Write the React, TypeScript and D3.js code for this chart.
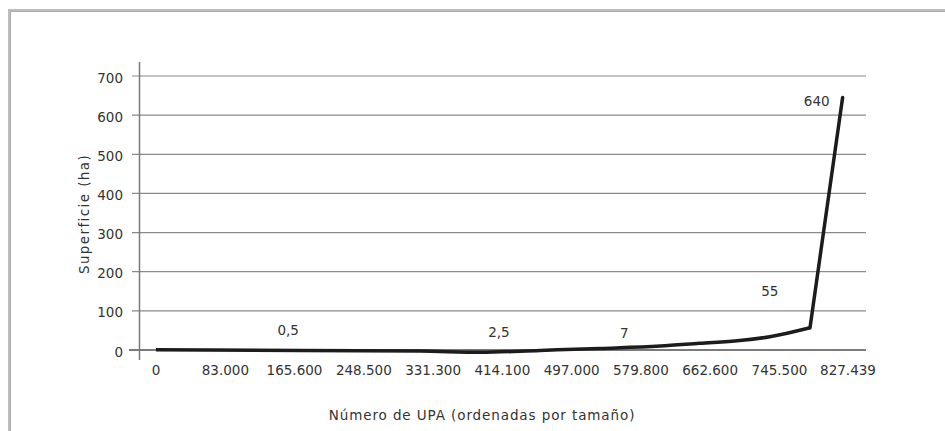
import React from 'react';
import * as d3 from 'd3';

// Número de UPA (ordenadas por tamaño) vs superficie (ha)
const rankUPA = [0, 172000, 316000, 388000, 459000, 531000, 603000, 650000, 698000, 734000, 782000, 821000];
const areaHa = [0.5, -1, -2.5, -6, -1, 4, 10, 17, 24, 34, 57, 645];

const xTickValues = [0, 83000, 165600, 248500, 331300, 414100, 497000, 579800, 662600, 745500, 827439];
const yTickValues = [0, 100, 200, 300, 400, 500, 600, 700];

// Data labels, anchored in data units
const labelText = ['0,5', '2,5', '7', '55', '640'];
const labelRank = [158000, 410000, 560000, 734000, 790000];
const labelArea = [38, 34, 31, 138, 623];

const W = 945;
const H = 431;
const margin = { left: 139, right: 79, top: 76, bottom: 81 };

const esLocale = d3.formatLocale({ decimal: ',', thousands: '.', grouping: [3], currency: ['', ''] });
const fmtThousands = esLocale.format(',');

export default function App() {
  const x = d3.scaleLinear()
    .domain([0, 827439])
    .range([156, 848]);

  const y = d3.scaleLinear()
    .domain([0, 700])
    .range([H - margin.bottom, margin.top]);

  const points = rankUPA.map((r, i) => [r, areaHa[i]] as [number, number]);
  // smooth tail, then a sharp jump for the last stretch
  const smooth = d3.line<[number, number]>()
    .x(d => x(d[0]))
    .y(d => y(d[1]))
    .curve(d3.curveMonotoneX);
  const straight = d3.line<[number, number]>()
    .x(d => x(d[0]))
    .y(d => y(d[1]));

  const gridRight = W - margin.right;
  const font = '"DejaVu Sans", sans-serif';

  return (
    <svg width={W} height={H} style={{ position: 'absolute', left: 0, top: 0, background: '#fff' }}>
      {/* frame */}
      <rect x={9.5} y={10.5} width={1200} height={1200} fill="none" stroke="#bdbdbd" strokeWidth={3} />
      <rect x={10.5} y={11.5} width={1200} height={1200} fill="none" stroke="#a8a8a8" strokeWidth={0.8} />

      {/* gridlines + y ticks */}
      {yTickValues.map(v => (
        <g key={v}>
          <line
            x1={v === 0 ? 129 : 132}
            x2={gridRight}
            y1={y(v)}
            y2={y(v)}
            stroke={v === 0 ? '#7a7a7a' : '#8a8a8a'}
            strokeWidth={v === 0 ? 2 : 1.2}
          />
          <text
            x={123}
            y={y(v) + 1.5}
            textAnchor="end"
            dominantBaseline="central"
            fontFamily={font}
            fontSize={13.5}
            fill="#333"
          >
            {v}
          </text>
        </g>
      ))}

      {/* y axis */}
      <line x1={139.5} x2={139.5} y1={62} y2={360} stroke="#7a7a7a" strokeWidth={1.5} />

      {/* x tick labels */}
      {xTickValues.map(v => (
        <text
          key={v}
          x={x(v)}
          y={375}
          textAnchor="middle"
          fontFamily={font}
          fontSize={13.5}
          fill="#333"
        >
          {fmtThousands(v)}
        </text>
      ))}

      {/* series */}
      <path d={smooth(points.slice(0, -1)) || ''} fill="none" stroke="#1c1c1c" strokeWidth={3.5} strokeLinejoin="round" />
      <path d={straight(points.slice(-2)) || ''} fill="none" stroke="#1c1c1c" strokeWidth={3.5} strokeLinecap="round" />

      {/* data labels */}
      {labelText.map((t, i) => (
        <text
          key={t}
          x={x(labelRank[i])}
          y={y(labelArea[i])}
          textAnchor="middle"
          fontFamily={font}
          fontSize={13.5}
          fill="#333"
        >
          {t}
        </text>
      ))}

      {/* axis titles */}
      <text x={482} y={420} textAnchor="middle" fontFamily={font} fontSize={13.5} letterSpacing={0.9} fill="#333">
        Número de UPA (ordenadas por tamaño)
      </text>
      <text
        transform="translate(89,214) rotate(-90)"
        textAnchor="middle"
        fontFamily={font}
        fontSize={13.5}
        letterSpacing={1.4}
        fill="#333"
      >
        Superficie (ha)
      </text>
    </svg>
  );
}
